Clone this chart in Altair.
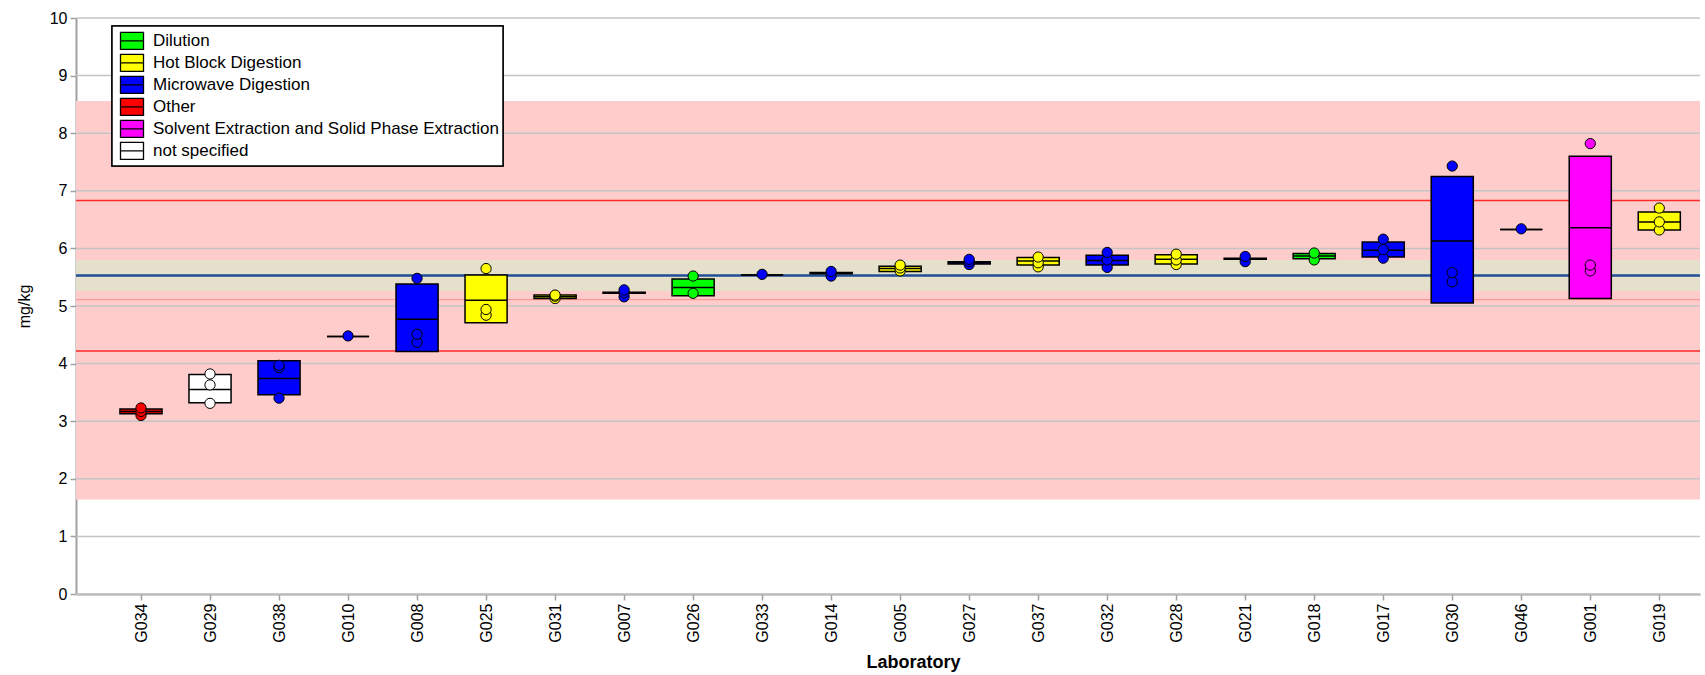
import altair as alt
import pandas as pd

# ---------------- data ----------------
labs = ["G034", "G029", "G038", "G010", "G008", "G025", "G031", "G007", "G026", "G033",
        "G014", "G005", "G027", "G037", "G032", "G028", "G021", "G018", "G017", "G030",
        "G046", "G001", "G019"]
methods = ["Other", "not specified", "Microwave Digestion", "Microwave Digestion",
           "Microwave Digestion", "Hot Block Digestion", "Hot Block Digestion",
           "Microwave Digestion", "Dilution", "Microwave Digestion", "Microwave Digestion",
           "Hot Block Digestion", "Microwave Digestion", "Hot Block Digestion",
           "Microwave Digestion", "Hot Block Digestion", "Microwave Digestion", "Dilution",
           "Microwave Digestion", "Microwave Digestion", "Microwave Digestion",
           "Solvent Extraction and Solid Phase Extraction", "Hot Block Digestion"]
box_lo = [3.13, 3.32, 3.46, 4.47, 4.21, 4.71, 5.13, 5.22, 5.18, 5.54, 5.56, 5.60, 5.73,
          5.71, 5.71, 5.73, 5.81, 5.82, 5.85, 5.05, 6.33, 5.13, 6.32]
box_hi = [3.21, 3.81, 4.05, 4.47, 5.38, 5.54, 5.19, 5.24, 5.47, 5.54, 5.58, 5.69, 5.77,
          5.84, 5.88, 5.89, 5.83, 5.91, 6.11, 7.25, 6.33, 7.60, 6.63]
medians = [3.17, 3.55, 3.74, 4.47, 4.77, 5.10, 5.16, 5.23, 5.32, 5.54, 5.57, 5.65, 5.75,
           5.78, 5.79, 5.81, 5.82, 5.87, 5.97, 6.13, 6.33, 6.36, 6.46]
points = [[3.10, 3.17, 3.23], [3.31, 3.63, 3.82], [3.40, 3.93, 3.97], [4.48],
          [4.37, 4.51, 5.48], [4.84, 4.94, 5.65], [5.13, 5.17, 5.19], [5.16, 5.23, 5.28],
          [5.22, 5.52], [5.55], [5.52, 5.60], [5.61, 5.66, 5.71], [5.72, 5.77, 5.81],
          [5.68, 5.75, 5.85], [5.67, 5.80, 5.93], [5.72, 5.80, 5.90], [5.77, 5.86],
          [5.80, 5.92], [5.83, 5.98, 6.16], [5.42, 5.58, 7.43], [6.34],
          [5.61, 5.71, 7.82], [6.32, 6.46, 6.70]]

method_order = ["Dilution", "Hot Block Digestion", "Microwave Digestion", "Other",
                "Solvent Extraction and Solid Phase Extraction", "not specified"]
method_colors = ["#00FF00", "#FFFF00", "#0000FF", "#FF0000", "#FF00FF", "#FFFFFF"]

y_ticks = list(range(11))
range_band = [1.64, 8.56]      # pink band
assigned_band = [5.26, 5.80]   # beige band
assigned_value = 5.53          # blue line
limit_lines = [4.22, 6.83]     # red lines
center_line = [5.11]           # pale red line

# ---------------- tables ----------------
box_df = pd.DataFrame({"idx": list(range(len(labs))), "lab": labs, "method": methods,
                       "lo": box_lo, "hi": box_hi, "med": medians})
pt_df = pd.DataFrame([{"idx": i, "lab": labs[i], "method": methods[i], "val": v}
                      for i, vals in enumerate(points) for v in vals])
band_df = pd.DataFrame({"kind": ["range", "assigned"],
                        "y1": [range_band[0], assigned_band[0]],
                        "y2": [range_band[1], assigned_band[1]]})
grid_df = pd.DataFrame({"y": y_ticks})
limit_df = pd.DataFrame({"y": limit_lines})
center_df = pd.DataFrame({"y": center_line})
assigned_df = pd.DataFrame({"y": [assigned_value]})

W, H = 1624, 576
FONT = "Liberation Sans"
HALF = 0.305

label_expr = "[" + ",".join("'%s'" % l for l in labs) + "][datum.value]"

x_scale = alt.Scale(domain=[-0.942, 22.59], nice=False, zero=False)
y_scale = alt.Scale(domain=[0, 10], nice=False)
fill_scale = alt.Scale(domain=method_order, range=method_colors)

x_axis = alt.Axis(values=list(range(len(labs))), labelExpr=label_expr, labelAngle=-90,
                  grid=False, titleX=837, titlePadding=11)
y_axis = alt.Axis(values=y_ticks, grid=False, titlePadding=17)

legend = alt.Legend(title=None, orient="none", legendX=36, legendY=8,
                    symbolType="M-1.15,-0.85H1.15V0.85H-1.15Z M-1.15,0H1.15", symbolSize=400,
                    symbolStrokeColor="black", symbolStrokeWidth=1.3,
                    symbolOffset=5, labelOffset=10, rowPadding=0, clipHeight=21.8,
                    padding=4, labelLimit=600,
                    fillColor="white", strokeColor="black",
                    labelFont=FONT, labelFontSize=17, labelColor="black")

Y = lambda f: alt.Y(f, type="quantitative", scale=y_scale, axis=y_axis, title="mg/kg")
X = lambda f: alt.X(f, type="quantitative", scale=x_scale, axis=x_axis, title="Laboratory")

bands = alt.Chart(band_df).mark_rect().encode(
    y=Y("y1"), y2="y2",
    color=alt.Color("kind:N", scale=alt.Scale(domain=["range", "assigned"],
                                              range=["#FFCCCC", "#E5E0CC"]), legend=None))

grid = alt.Chart(grid_df).mark_rule(color="#C4C4C4", strokeWidth=1.5).encode(y=Y("y"))
limits = alt.Chart(limit_df).mark_rule(color="#FF2A2A", strokeWidth=1.5).encode(y=Y("y"))
center = alt.Chart(center_df).mark_rule(color="#FF8C8C", strokeWidth=1).encode(y=Y("y"))
assigned = alt.Chart(assigned_df).mark_rule(color="#1F4E96", strokeWidth=2.5).encode(y=Y("y"))

boxes = alt.Chart(box_df).transform_calculate(
    xl="datum.idx - %f" % HALF, xr="datum.idx + %f" % HALF
).mark_rect(stroke="black", strokeWidth=1.5).encode(
    x=X("xl"), x2="xr", y=Y("lo"), y2="hi",
    fill=alt.Fill("method:N", scale=fill_scale, legend=legend))

meds = alt.Chart(box_df).transform_calculate(
    xl="datum.idx - %f" % HALF, xr="datum.idx + %f" % HALF
).mark_rule(color="black", strokeWidth=1.5).encode(x=X("xl"), x2="xr", y=Y("med"))

pts = alt.Chart(pt_df).mark_point(filled=True, size=105, stroke="black", strokeWidth=1,
                                  opacity=1).encode(
    x=X("idx"), y=Y("val"),
    fill=alt.Fill("method:N", scale=fill_scale, legend=legend))

chart = alt.layer(bands, grid, limits, center, assigned, boxes, meds, pts).resolve_scale(
    color="independent", fill="independent"
).properties(
    width=W, height=H,
    padding={"left": 76, "top": 18, "right": 5, "bottom": 81},
    autosize=alt.AutoSizeParams(type="none"),
    background="white"
).configure_view(strokeWidth=0).configure_axis(
    domainColor="#A0A0A0", domainWidth=2, tickColor="#A0A0A0", tickWidth=1.5, tickSize=6,
    labelFont=FONT, labelFontSize=16, labelColor="black", labelPadding=3,
    titleFont=FONT, titleColor="black"
).configure_axisX(titleFontSize=18, titleFontWeight="bold"
).configure_axisY(titleFontSize=16, titleFontWeight="normal"
).configure_legend(strokeWidth=1.5)

chart.save("out.html", embed_options={"renderer": "svg", "actions": False})
